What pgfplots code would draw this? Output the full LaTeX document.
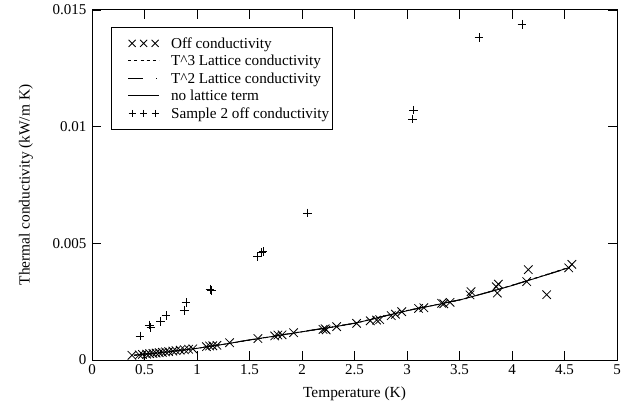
\documentclass[border=0pt]{standalone}
\usepackage{fontspec}
\setmainfont{Liberation Serif}
\usepackage{pgfplots}
\pgfplotsset{compat=1.18}
\usetikzlibrary{calc}
\begin{document}
\begin{tikzpicture}
\begin{axis}[
  scale only axis, width=525pt, height=350pt,
  xmin=0, xmax=5, ymin=0, ymax=0.015,
  xtick={0,0.5,...,5}, xticklabels={0,0.5,1,1.5,2,2.5,3,3.5,4,4.5,5},
  ytick={0,0.005,0.01,0.015}, yticklabels={0,0.005,0.01,0.015},
  scaled y ticks=false,
  /pgf/number format/assume math mode=true,
  tick style={black, line width=0.8pt},
  major tick length=9pt,
  axis line style={line width=1pt},
  tick label style={font=\fontsize{15}{17}\selectfont},
  xticklabel style={yshift=-1pt},
  yticklabel style={xshift=-2pt},
  xlabel={Temperature (K)}, ylabel={Thermal conductivity (kW/m K)},
  every axis x label/.style={at={(rel axis cs:0.5,0)}, anchor=center, yshift=-34pt, font=\fontsize{15.4}{17}\selectfont},
  every axis y label/.style={at={(rel axis cs:0,0.5)}, rotate=90, anchor=center, yshift=66pt, font=\fontsize{15.4}{17}\selectfont},
  legend style={at={(rel axis cs:0,1)}, anchor=north west, xshift=18.7pt, yshift=-16.7pt,
    draw=black, line width=0.8pt, font=\fontsize{15.2}{17}\selectfont,
    inner xsep=1pt, inner ysep=8pt, row sep=1pt, column sep=9pt,
    cells={anchor=west, inner ysep=1.3pt, inner xsep=1pt, text height=11pt, text depth=4pt}},
  legend cell align=left,
  clip=true,
]
\coordinate (SW) at (rel axis cs:0,0);
\coordinate (NE) at (rel axis cs:1,1);
% Off conductivity
\addplot[only marks, mark=x, mark size=6pt, mark options={line width=0.8pt},
  legend image code/.code={\path[draw=none,fill=none] (0pt,-1pt) rectangle (0pt,1pt); \draw[line width=0.8pt] plot[mark=x, mark size=5pt, only marks] coordinates {(20pt,0pt) (31.5pt,0pt) (43pt,0pt)}; \path[draw=none,fill=none] (48pt,0pt) rectangle (48pt,0pt);}]
coordinates {
(0.38,0.00020)(0.45,0.00022)(0.48,0.00024)(0.52,0.00025)(0.55,0.00027)(0.58,0.00028)
(0.61,0.00030)(0.64,0.00031)(0.67,0.00033)(0.70,0.00035)(0.73,0.00036)(0.77,0.00038)
(0.80,0.00040)(0.84,0.00042)(0.88,0.00044)(0.92,0.00046)(0.96,0.00048)
(1.09,0.00057)(1.12,0.00060)(1.15,0.00061)(1.19,0.00063)(1.31,0.00074)
(1.58,0.00092)(1.74,0.00103)(1.77,0.00107)(1.81,0.00108)(1.92,0.00117)
(2.20,0.00131)(2.22,0.00134)(2.23,0.00129)(2.33,0.00143)(2.52,0.00157)
(2.65,0.00168)(2.71,0.00171)(2.74,0.00173)(2.85,0.00190)(2.89,0.00196)
(2.95,0.00207)(3.11,0.00221)(3.16,0.00224)(3.33,0.00243)(3.35,0.00241)
(3.41,0.00247)(3.60,0.00279)(3.61,0.00293)(3.85,0.00314)(3.86,0.00287)
(3.87,0.00325)(4.14,0.00336)(4.155,0.00387)(4.33,0.00280)(4.54,0.00395)(4.57,0.00410)
};
\addlegendentry{Off conductivity}
% T^3 lattice
\addplot[black, line width=0.9pt, dash pattern=on 3pt off 3pt,
  legend image code/.code={\path[draw=none,fill=none] (0pt,-1pt) rectangle (0pt,1pt); \draw[line width=0.9pt, dash pattern=on 3pt off 3.2pt] (16pt,0pt) -- (47pt,0pt); \path[draw=none,fill=none] (48pt,0pt) rectangle (48pt,0pt);}]
coordinates {
(0.40,0.00020)(0.60,0.00029)(0.80,0.00039)(1.00,0.00050)(1.25,0.00067)(1.50,0.00085)
(1.75,0.00103)(2.00,0.00121)(2.25,0.00138)(2.50,0.00157)(2.75,0.00184)(3.00,0.00212)
(3.25,0.00234)(3.50,0.00257)(3.75,0.00288)(4.00,0.00320)(4.25,0.00355)(4.55,0.00398)
};
\addlegendentry{T\^{}3 Lattice conductivity}
% T^2 lattice
\addplot[black, line width=0.9pt, dash pattern=on 16pt off 9pt on 1pt off 9pt,
  legend image code/.code={\path[draw=none,fill=none] (0pt,-1pt) rectangle (0pt,1pt); \draw[line width=0.9pt, dash pattern=on 15pt off 13pt on 1.2pt off 9pt] (16pt,0pt) -- (47pt,0pt); \path[draw=none,fill=none] (48pt,0pt) rectangle (48pt,0pt);}]
coordinates {
(0.40,0.00021)(0.60,0.00030)(0.80,0.00040)(1.00,0.00051)(1.25,0.00068)(1.50,0.00086)
(1.75,0.00104)(2.00,0.00122)(2.25,0.00139)(2.50,0.00158)(2.75,0.00185)(3.00,0.00212)
(3.25,0.00235)(3.50,0.00258)(3.75,0.00288)(4.00,0.00320)(4.25,0.00354)(4.55,0.00396)
};
\addlegendentry{T\^{}2 Lattice conductivity}
% no lattice term
\addplot[black, line width=0.9pt,
  legend image code/.code={\path[draw=none,fill=none] (0pt,-1pt) rectangle (0pt,1pt); \draw[line width=0.9pt] (16pt,0pt) -- (47pt,0pt); \path[draw=none,fill=none] (48pt,0pt) rectangle (48pt,0pt);}]
coordinates {
(0.40,0.00020)(0.60,0.00029)(0.80,0.00039)(1.00,0.00050)(1.25,0.00067)(1.50,0.00086)
(1.75,0.00103)(2.00,0.00121)(2.25,0.00138)(2.50,0.00157)(2.75,0.00184)(3.00,0.00211)
(3.25,0.00234)(3.50,0.00257)(3.75,0.00287)(4.00,0.00319)(4.25,0.00354)(4.55,0.00397)
};
\addlegendentry{no lattice term}
% Sample 2
\addplot[only marks, mark=+, mark size=4.3pt, mark options={line width=0.8pt},
  legend image code/.code={\path[draw=none,fill=none] (0pt,-1pt) rectangle (0pt,1pt); \draw[line width=0.8pt] plot[mark=+, mark size=3.5pt, only marks] coordinates {(20pt,0pt) (31.5pt,0pt) (43pt,0pt)}; \path[draw=none,fill=none] (48pt,0pt) rectangle (48pt,0pt);}]
coordinates {
(0.457,0.00103)(0.545,0.00150)(0.56,0.00138)(0.654,0.00164)(0.705,0.00190)
(0.879,0.00211)(0.895,0.00247)(1.124,0.00303)(1.14,0.00297)(1.578,0.00443)
(1.616,0.00460)(1.63,0.00464)(2.05,0.0063)(3.05,0.01033)(3.06,0.01071)
(3.686,0.01381)(4.095,0.01439)(4.10,0.01502)
};
\addlegendentry{Sample 2 off conductivity}
\end{axis}
\path ($(SW)+(-92pt,-51pt)$) rectangle ($(NE)+(10pt,10pt)$);
\end{tikzpicture}
\end{document}
